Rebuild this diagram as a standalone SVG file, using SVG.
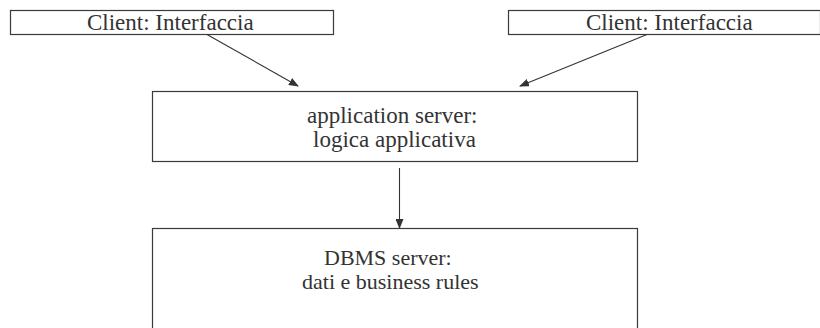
<svg xmlns="http://www.w3.org/2000/svg" width="820" height="328" viewBox="0 0 820 328">
<style>
.box{fill:#fff;stroke:#3a3a3a;stroke-width:1.2}
.t{font-family:"Liberation Serif","Times New Roman",serif;font-size:23px;fill:#333}
.s{font-size:22px}
.c{stroke:#333;stroke-width:1.1;fill:none}
</style>
<defs>
<marker id="ah" markerWidth="10" markerHeight="8" refX="9" refY="4" orient="auto" markerUnits="userSpaceOnUse">
<path d="M0,0 L10,4 L0,8 Z" fill="#333"/>
</marker>
</defs>
<rect width="820" height="328" fill="#fff"/>
<g id="client1">
<rect class="box" x="10.5" y="10.5" width="323" height="24"/>
<text class="t" x="87" y="29.5">Client: Interfaccia</text>
</g>
<g id="client2">
<rect class="box" x="508.5" y="10.5" width="312" height="24"/>
<text class="t" x="586" y="29.5">Client: Interfaccia</text>
</g>
<g id="appserver">
<rect class="box" x="152.5" y="91.5" width="485" height="70"/>
<text class="t" x="307" y="123">application server:</text>
<text class="t" x="313" y="147">logica applicativa</text>
</g>
<g id="dbms">
<rect class="box" x="152.5" y="228.5" width="485" height="110"/>
<text class="t s" x="324" y="265">DBMS server:</text>
<text class="t s" x="302" y="289">dati e business rules</text>
</g>
<g id="connectors">
<line class="c" x1="207" y1="34.5" x2="298" y2="86" marker-end="url(#ah)"/>
<line class="c" x1="647" y1="34.5" x2="520" y2="86" marker-end="url(#ah)"/>
<line class="c" x1="399.5" y1="168" x2="399.5" y2="228" marker-end="url(#ah)"/>
</g>
</svg>
